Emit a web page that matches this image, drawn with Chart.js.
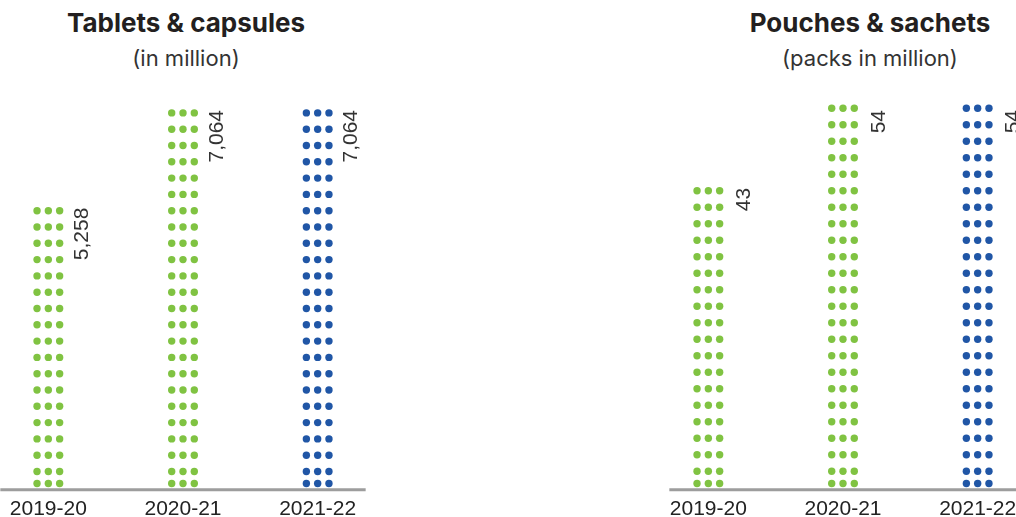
<!DOCTYPE html>
<html>
<head>
<meta charset="utf-8">
<title>Packing volumes</title>
<script src="https://cdn.jsdelivr.net/npm/chart.js@4.4.1/dist/chart.umd.min.js"></script>
<style>
  html, body { margin: 0; padding: 0; background: #fff; }
  body { width: 1016px; height: 517px; position: relative; overflow: hidden; }
  .head { position: absolute; width: 400px; text-align: center; color: #231f20; font-family: Inter, sans-serif; }
  .head h2 { margin: 0; font-size: 26px; line-height: 30px; font-weight: 700; position: absolute; top: 8px; width: 100%; }
  .head p { margin: 0; font-size: 22px; line-height: 26px; font-weight: 400; color: #333; position: absolute; top: 45px; width: 100%; }
  .box { position: absolute; top: 0; width: 404px; height: 531px; }
</style>
</head>
<body>
<div class="head" style="left: -14px;">
  <h2>Tablets &amp; capsules</h2>
  <p>(in million)</p>
</div>
<div class="head" style="left: 670px;">
  <h2>Pouches &amp; sachets</h2>
  <p>(packs in million)</p>
</div>
<div class="box" style="left: -19px;"><canvas id="tablets"></canvas></div>
<div class="box" style="left: 641px;"><canvas id="pouches"></canvas></div>

<script>
// Years shown on both charts
const years = ['2019-20', '2020-21', '2021-22'];

// Tablets & capsules, in million
const tabletValues = [5258, 7064, 7064];

// Pouches & sachets, packs in million
const pouchValues = [43, 54, 54];

// last year is highlighted in blue
const barColors = ['#80c342', '#80c342', '#2056a6'];

// draws each bar as a column of dots, its value label and the base line
const dotBars = {
  id: 'dotBars',
  afterDatasetsDraw(chart, args, opts) {
    const ctx = chart.ctx;
    const meta = chart.getDatasetMeta(0);
    const values = chart.data.datasets[0].data;
    ctx.save();
    meta.data.forEach((bar, i) => {
      ctx.fillStyle = barColors[i];
      const rows = [bar.base - 4.3];
      for (let cy = bar.base - opts.rowGap; cy >= bar.y + 2; cy -= opts.rowGap) {
        rows.push(cy);
      }
      rows.forEach(cy => {
        [-11.3, 0, 11.3].forEach(dx => {
          ctx.beginPath();
          ctx.arc(bar.x + dx, cy, 3.7, 0, Math.PI * 2);
          ctx.fill();
        });
      });

      // value written upwards, next to the top of the column
      ctx.save();
      ctx.translate(bar.x + opts.labelGap, bar.y + 4);
      ctx.rotate(-Math.PI / 2);
      ctx.font = '21px "Liberation Sans", Arial, sans-serif';
      ctx.fillStyle = '#333';
      ctx.textAlign = 'right';
      ctx.textBaseline = 'middle';
      ctx.fillText(values[i].toLocaleString('en-US'), 0, 0);
      ctx.restore();
    });

    // grey base line under the columns
    const first = meta.data[0];
    const last = meta.data[meta.data.length - 1];
    ctx.strokeStyle = '#9d9d9d';
    ctx.lineWidth = 3;
    ctx.beginPath();
    ctx.moveTo(first.x - opts.lineExtend, first.base + 2);
    ctx.lineTo(last.x + opts.lineExtend, first.base + 2);
    ctx.stroke();
    ctx.restore();
  }
};

function makeChart(id, values, rowGap, labelGap, lineExtend) {
  return new Chart(document.getElementById(id), {
    type: 'bar',
    data: {
      labels: years,
      datasets: [{
        data: values,
        backgroundColor: 'rgba(0,0,0,0)',
        borderWidth: 0,
        barThickness: 34
      }]
    },
    options: {
      responsive: true,
      maintainAspectRatio: false,
      animation: false,
      layout: { padding: { top: 106, left: 0, right: 0, bottom: 0 } },
      plugins: {
        legend: { display: false },
        tooltip: { enabled: false },
        dotBars: { rowGap: rowGap, labelGap: labelGap, lineExtend: lineExtend }
      },
      scales: {
        x: {
          offset: true,
          grid: { display: false, drawTicks: false },
          border: { display: false },
          ticks: {
            color: '#222',
            padding: 9,
            font: { family: '"Liberation Sans", Arial, sans-serif', size: 21 }
          }
        },
        y: {
          display: false,
          min: 0,
          max: Math.max(...values)
        }
      }
    },
    plugins: [dotBars]
  });
}

makeChart('tablets', tabletValues, 16.3, 34, 48);
makeChart('pouches', pouchValues, 16.5, 36, 39);
</script>
</body>
</html>
